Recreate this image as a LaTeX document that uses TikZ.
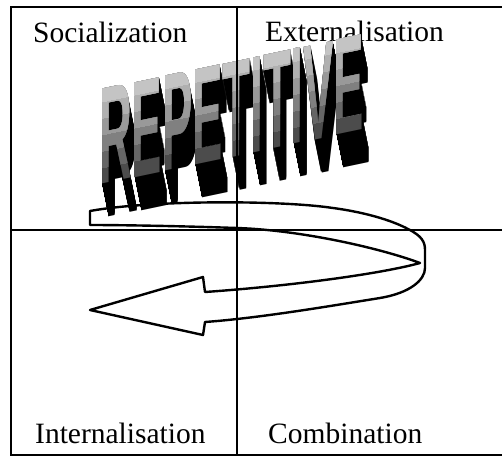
\documentclass[tikz,border=0pt]{standalone}
\usepackage{fontspec}
\setmainfont{Liberation Serif}
\newfontfamily\artfont{Liberation Sans}
\begin{document}
\begin{tikzpicture}[x=1pt,y=1pt,
  frameline/.style={line width=1.8pt, black},
  ribbon/.style={line width=2.4pt, line join=round, black},
  quadlabel/.style={font=\fontsize{29.5}{30}\selectfont, inner sep=0pt, anchor=base west},
  artplace/.style={shift={(99,273)}, yslant=0.21, xscale=0.329},
  artword/.style={font=\artfont\bfseries\fontsize{138}{138}\selectfont, inner sep=0pt, anchor=base west, transform shape}]
\useasboundingbox (0,0) rectangle (502,458);
\fill[white] (0,0) rectangle (502,458);
% quadrant labels
\node[quadlabel] (soc) at (33,415) {Socialization};
\node[quadlabel] (ext) at (265,416) {Externalisation};
\node[quadlabel] (int) at (35,15) {Internalisation};
\node[quadlabel] (com) at (268,15) {Combination};
% curved ribbon arrow
\draw[ribbon] (90,233) -- (90,247)
 .. controls (150,258) and (280,258) .. (333,250)
 .. controls (370,245) and (395,236) .. (408,229)
 .. controls (422,222) and (425,216) .. (425,208)
 -- (425,190)
 .. controls (425,178) and (410,165) .. (380,160)
 .. controls (330,152) and (260,140) .. (205,136)
 -- (203,123) -- (90,148) -- (203,181) -- (205,166)
 .. controls (290,172) and (380,184) .. (420,195)
 .. controls (380,210) and (300,228) .. (237,230)
 .. controls (180,232) and (120,233) .. (90,233) -- cycle;
% word art: extrusion
\foreach \i in {33,32,...,1} {
  \begin{scope}[shift={({0.2*\i},{-\i})}, artplace]
    \node[artword, text=black] (depth\i) at (0,0) {REPETITIVE};
  \end{scope}
}
% word art: face with stepped gradient
\foreach \k/\c in {0/70,1/60,2/50,3/40,4/31,5/23} {
  \begin{scope}[artplace]
    \clip (-20,{\k*16.5}) rectangle (900,230);
    \node[artword, text=black!\c] (face\k) at (0,0) {REPETITIVE};
  \end{scope}
}
% frame
\draw[frameline] (502,451) -- (11,451) -- (11,3) -- (502,3);
\draw[frameline] (237,451) -- (237,3);
\draw[frameline] (11,228) -- (502,228);
\end{tikzpicture}
\end{document}
